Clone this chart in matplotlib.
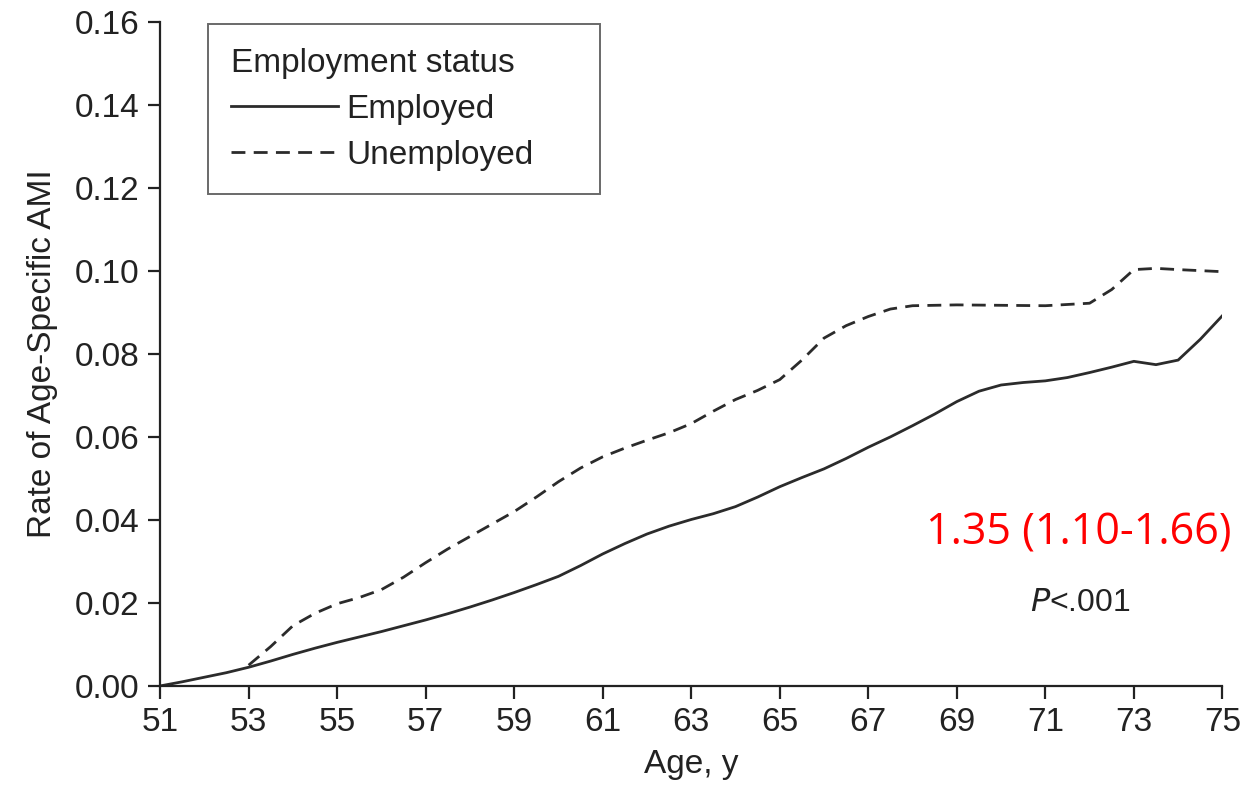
import numpy as np
import matplotlib.pyplot as plt

# values
emp_age = [51, 51.5, 52, 52.5, 53, 53.5, 54, 54.5, 55, 55.5, 56, 56.5, 57, 57.5, 58, 58.5,
           59, 59.5, 60, 60.5, 61, 61.5, 62, 62.5, 63, 63.5, 64, 64.5, 65, 65.5, 66, 66.5,
           67, 67.5, 68, 68.5, 69, 69.5, 70, 70.5, 71, 71.5, 72, 72.5, 73, 73.5, 74, 74.5, 75]
emp_rate = [0.0000, 0.0010, 0.0021, 0.0032, 0.0045, 0.0060, 0.0076, 0.0091, 0.0105, 0.0118,
            0.0131, 0.0145, 0.0159, 0.0174, 0.0190, 0.0207, 0.0225, 0.0244, 0.0264, 0.0290,
            0.0318, 0.0343, 0.0366, 0.0385, 0.0401, 0.0415, 0.0432, 0.0455, 0.0480, 0.0502,
            0.0523, 0.0548, 0.0575, 0.0600, 0.0627, 0.0655, 0.0685, 0.0710, 0.0725, 0.0731,
            0.0735, 0.0743, 0.0755, 0.0768, 0.0782, 0.0774, 0.0785, 0.0835, 0.0892]

unemp_age = [53, 53.5, 54, 54.5, 55, 55.5, 56, 56.5, 57, 57.5, 58, 58.5, 59, 59.5, 60, 60.5,
             61, 61.5, 62, 62.5, 63, 63.5, 64, 64.5, 65, 65.5, 66, 66.5, 67, 67.5, 68, 69,
             70, 71, 72, 72.5, 73, 73.5, 74, 75]
unemp_rate = [0.0050, 0.0095, 0.0145, 0.0175, 0.0198, 0.0213, 0.0232, 0.0262, 0.0297, 0.0330,
              0.0360, 0.0390, 0.0420, 0.0455, 0.0492, 0.0525, 0.0552, 0.0573, 0.0592, 0.0610,
              0.0632, 0.0662, 0.0690, 0.0712, 0.0738, 0.0785, 0.0838, 0.0868, 0.0890, 0.0908,
              0.0916, 0.0918, 0.0917, 0.0916, 0.0922, 0.0955, 0.1003, 0.1006, 0.1003, 0.0998]

x_ticks = list(range(51, 76, 2))
y_ticks = [0.00, 0.02, 0.04, 0.06, 0.08, 0.10, 0.12, 0.14, 0.16]

plt.rcParams['font.family'] = ['Liberation Sans Narrow', 'Liberation Sans', 'DejaVu Sans']

fig = plt.figure(figsize=(12.41, 8.07), dpi=100)
ax = fig.add_axes([0.129, 0.150, 0.856, 0.823])

line_col = '#2b2b2b'
ax.plot(emp_age, emp_rate, color=line_col, lw=2.0, label='Employed')
ax.plot(unemp_age, unemp_rate, color=line_col, lw=2.0, dashes=(5, 3), label='Unemployed')

ax.set_xlim(51, 75)
ax.set_ylim(0, 0.16)
ax.set_xticks(x_ticks)
ax.set_yticks(y_ticks)
ax.set_yticklabels([f'{v:.2f}' for v in y_ticks])
ax.spines['top'].set_visible(False)
ax.spines['right'].set_visible(False)
for s in ('left', 'bottom'):
    ax.spines[s].set_color('#222222')
    ax.spines[s].set_linewidth(1.6)
ax.tick_params(direction='out', length=9, width=1.6, labelsize=24, colors='#222222', pad=6)
ax.set_xlabel('Age, y', fontsize=24, color='#222222', labelpad=8)
ax.set_ylabel('Rate of Age-Specific AMI', fontsize=24, color='#222222', labelpad=12)

leg = ax.legend(title='Employment status', loc='upper left',
                bbox_to_anchor=(0.045, 0.996, 0.369, 0.0), mode='expand',
                fontsize=24, title_fontsize=24, handlelength=3.2, handletextpad=0.25,
                frameon=True, fancybox=False, borderpad=0.7, labelspacing=0.45,
                borderaxespad=0.0, alignment='left')
leg.get_frame().set_edgecolor('#444444')
leg.get_frame().set_linewidth(1.4)
for t in leg.get_texts():
    t.set_color('#222222')
leg.get_title().set_color('#222222')

ax.text(75.2, 0.0367, '1.35 (1.10-1.66)', color='red', fontsize=31, ha='right', va='center',
        family=['Open Sans', 'DejaVu Sans'])
ax.text(71.8, 0.0200, r'$\it{P}$<.001', color='#222222', fontsize=23, ha='center', va='center')

fig.savefig('out.png', dpi=100)
